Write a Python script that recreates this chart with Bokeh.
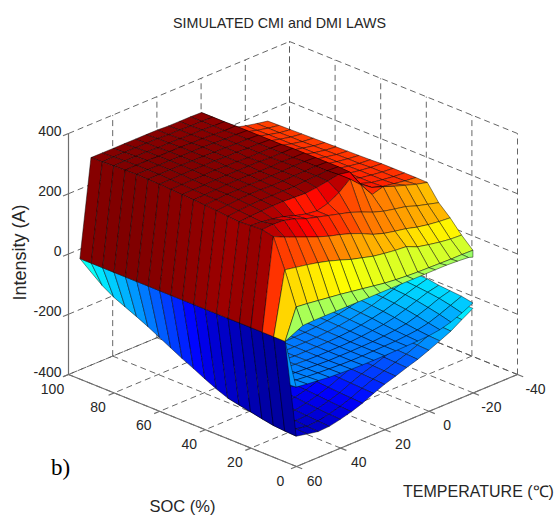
from bokeh.plotting import figure
from bokeh.embed import file_html
from bokeh.resources import INLINE
from bokeh.models import ColumnDataSource
from bokeh.core.properties import value

# ---------------- data ----------------
title = "SIMULATED CMI and DMI LAWS"
soc_ticks = [0, 20, 40, 60, 80, 100]
temp_ticks = [60, 40, 20, 0, -20, -40]
z_ticks = [-400, -200, 0, 200, 400]

temps = [60, 55, 50, 45, 40, 35, 30, 25, 20, 15, 10, 5, 0, -5, -10, -15, -20, -25]
socs = [5, 10, 15, 20, 25, 30, 35, 40, 45, 50, 55, 60, 65, 70, 75, 80, 85, 90, 95]

# upper sheet (charge): one row per SOC, one value per temps[1:]; temps[0] is zero
up_edge = [28, 30, 30, 30, 30, 30, 30, 30, 30, 30, 30, 30, 30, 30, 28, 25, 20]
up_05 = [99, 95, 90, 85, 80, 74, 68, 62, 56, 52, 49, 47, 46, 45, 44, 44, 43]
up_10 = [207, 200, 193, 185, 175, 163, 150, 140, 130, 124, 119, 116, 100, 92, 85, 80, 78]
up_15 = [302, 285, 270, 255, 240, 227, 217, 205, 190, 172, 160, 152, 145, 135, 128, 123, 120]
up_20 = [310, 312, 310, 300, 285, 275, 265, 255, 245, 231, 215, 203, 195, 188, 175, 165, 155]
up_25 = [308, 305, 300, 292, 280, 270, 265, 275, 295, 325, 290, 243, 254, 240, 228, 216, 207]
up_30 = [305, 308, 310, 312, 312, 310, 308, 312, 318, 325, 318, 262, 236, 224, 218, 212, 208]
up_35 = [308, 312, 315, 316, 316, 316, 315, 318, 320, 322, 320, 265, 234, 222, 216, 211, 208]
up_40 = [312, 315, 318, 320, 320, 318, 318, 320, 320, 322, 320, 265, 234, 222, 216, 211, 208]
up_45 = [315, 318, 320, 320, 322, 320, 320, 320, 322, 322, 320, 265, 234, 222, 216, 211, 208]
up_50 = [317, 318, 320, 322, 322, 322, 320, 320, 322, 320, 320, 265, 234, 222, 215, 209, 206]
up_55 = [319, 320, 320, 322, 322, 322, 322, 322, 320, 320, 320, 265, 234, 222, 215, 209, 205]
up_60 = [321, 322, 322, 322, 324, 322, 322, 320, 320, 320, 318, 265, 234, 222, 215, 208, 204]
up_65 = [323, 323, 324, 324, 324, 324, 322, 322, 320, 320, 318, 265, 234, 222, 214, 207, 203]
up_70 = [324, 325, 325, 325, 324, 324, 322, 322, 320, 320, 318, 265, 234, 222, 214, 206, 202]
up_75 = [325, 325, 325, 325, 324, 324, 324, 322, 320, 320, 318, 265, 234, 222, 213, 205, 201]
up_80 = [324, 325, 325, 324, 324, 324, 322, 322, 320, 318, 318, 265, 234, 222, 213, 205, 200]
up_85 = [323, 324, 324, 324, 322, 322, 322, 320, 320, 318, 317, 265, 234, 222, 213, 204, 199]
up_90 = [321, 322, 322, 322, 322, 322, 320, 320, 318, 318, 317, 265, 234, 222, 212, 204, 198]
up_95 = [320, 320, 320, 320, 320, 320, 320, 318, 318, 318, 317, 265, 234, 222, 212, 204, 197]

# blue sheet seen from below at the 60 to 55 degree step, by SOC
wall_55 = [-330, -328, -325, -318, -310, -303, -295, -280, -262, -243, -225, -205, -185, -165, -147, -130, -113, -90, -60]

# dark lower sheet, SOC 5 to 35, temps[1:]
dk_05 = [-330, -338, -345, -343, -335, -325, -312, -295, -280, -268, -255, -243, -228, -212, -195, -172, -150]
dk_10 = [-328, -336, -343, -341, -333, -323, -310, -293, -278, -266, -253, -241, -226, -210, -193, -170, -148]
dk_15 = [-325, -333, -340, -338, -330, -320, -308, -291, -276, -264, -251, -239, -224, -208, -190, -168, -146]
dk_20 = [-318, -330, -337, -335, -327, -317, -305, -289, -274, -262, -249, -237, -222, -206, -188, -166, -144]
dk_25 = [-310, -326, -333, -331, -323, -314, -302, -286, -272, -260, -247, -235, -220, -204, -186, -164, -142]
dk_30 = [-303, -322, -329, -327, -320, -311, -299, -283, -270, -258, -245, -233, -218, -202, -184, -162, -140]
dk_35 = [-295, -318, -325, -323, -316, -308, -296, -280, -268, -256, -243, -231, -216, -200, -182, -160, -138]

# lighter lower sheet, SOC 5 to 60, temps[1:]
lt_05 = [-167, -172, -176, -180, -182, -184, -185, -185, -185, -184, -183, -182, -180, -175, -165, -150, -132]
lt_10 = [-170, -174, -178, -181, -183, -185, -186, -186, -185, -184, -183, -180, -176, -168, -155, -140, -125]
lt_15 = [-172, -176, -180, -182, -184, -186, -186, -186, -185, -184, -181, -177, -171, -160, -147, -132, -122]
lt_20 = [-174, -178, -181, -183, -185, -186, -186, -186, -185, -182, -178, -173, -165, -153, -140, -127, -119]
lt_25 = [-176, -180, -182, -184, -186, -186, -186, -185, -183, -180, -175, -168, -160, -148, -135, -123, -113]
lt_30 = [-178, -180, -183, -185, -186, -186, -186, -185, -182, -178, -172, -165, -156, -144, -132, -120, -112]
lt_35 = [-180, -182, -184, -185, -186, -186, -185, -184, -181, -176, -170, -162, -153, -142, -130, -118, -110]
lt_40 = [-180, -182, -184, -185, -186, -186, -185, -183, -180, -175, -168, -160, -150, -140, -128, -116, -108]
lt_45 = [-180, -182, -184, -185, -186, -186, -185, -182, -178, -173, -166, -158, -148, -138, -126, -114, -106]
lt_50 = [-180, -182, -184, -185, -185, -185, -184, -181, -177, -172, -165, -156, -146, -136, -124, -112, -104]
lt_55 = [-180, -182, -183, -184, -185, -185, -183, -180, -176, -170, -163, -154, -144, -134, -122, -110, -102]
lt_60 = [-178, -180, -182, -183, -184, -184, -182, -179, -175, -169, -162, -152, -142, -132, -120, -108, -100]

upper_rows = [up_05, up_10, up_15, up_20, up_25, up_30, up_35, up_40, up_45, up_50,
              up_55, up_60, up_65, up_70, up_75, up_80, up_85, up_90, up_95]
dark_rows = [dk_05, dk_10, dk_15, dk_20, dk_25, dk_30, dk_35]
light_rows = [lt_05, lt_10, lt_15, lt_20, lt_25, lt_30, lt_35, lt_40, lt_45, lt_50, lt_55, lt_60]

# ---------------- view of the 3-D box, in page pixels ----------------
X0, Y0 = 296.0, 466.0          # corner SOC 0, T 60, Z -400
SX, SY = -2.28, -0.92          # per % SOC
TX, TY = 2.21, -0.92           # per degree below 60
ZY = -241.0 / 800.0            # per ampere

def proj(soc, t, z):
    u = 60 - t
    return (X0 + SX * soc + TX * u, Y0 + SY * soc + TY * u + ZY * (z + 400))

CMIN, CMAX = -350.0, 325.0
def jet(z):
    f = max(0.0, min(1.0, (z - CMIN) / (CMAX - CMIN)))
    ch = lambda c: max(0.0, min(1.0, 1.5 - abs(4 * f - c)))
    r, g, b = ch(3), ch(2), ch(1)
    return "#%02x%02x%02x" % (round(r * 255), round(g * 255), round(b * 255))

xs, ys, cols = [], [], []
def quad(pts, z):
    px = [proj(*q) for q in pts]
    xs.append([a for a, _ in px])
    ys.append([b for _, b in px])
    cols.append(jet(z))

def sheet(rows, row_socs, t_list, tint=0):
    # back to front: coldest column first, highest SOC first
    for j in range(len(t_list) - 1, 0, -1):
        t_lo, t_hi = t_list[j], t_list[j - 1]
        for i in range(len(rows) - 2, -1, -1):
            s_lo, s_hi = row_socs[i], row_socs[i + 1]
            quad([(s_lo, t_hi, rows[i][j - 1]), (s_hi, t_hi, rows[i + 1][j - 1]),
                  (s_hi, t_lo, rows[i + 1][j]), (s_lo, t_lo, rows[i][j])], rows[i][j] + tint)

t55 = temps[1:]
sheet(dark_rows, socs[:len(dark_rows)], t55, tint=40)
sheet(light_rows, socs[:len(light_rows)], t55)
# first step of the lighter sheet
quad([(socs[0], 60, 0), (socs[1], 60, 0), (socs[1], 55, light_rows[1][0]), (socs[0], 55, light_rows[0][0])], light_rows[0][0])
# blue step between 60 and 55 degrees
for i in range(len(socs) - 2, -1, -1):
    quad([(socs[i], 60, 0), (socs[i + 1], 60, 0), (socs[i + 1], 55, wall_55[i + 1]), (socs[i], 55, wall_55[i])], wall_55[i])

# upper sheet, including its step from zero at 60 degrees
full_upper = [[0] + r for r in upper_rows]
edge_row = [0] + up_edge
for j in range(len(temps) - 1, 0, -1):
    t_lo, t_hi = temps[j], temps[j - 1]
    for i in range(len(socs) - 2, -1, -1):
        tint = -40 if (socs[i] == 20 and j > 3) or (socs[i] == 25 and j > 5) else 0
        quad([(socs[i], t_hi, full_upper[i][j - 1]), (socs[i + 1], t_hi, full_upper[i + 1][j - 1]),
              (socs[i + 1], t_lo, full_upper[i + 1][j]), (socs[i], t_lo, full_upper[i][j])], full_upper[i][j] + tint)
    # narrow band at the lowest SOC
    sh = 0 if j == len(temps) - 1 else 3
    sh_hi = 0 if j == 1 else 3
    quad([(socs[0], t_lo, full_upper[0][j]), (socs[0], t_hi, full_upper[0][j - 1]),
          (socs[0], t_hi - sh_hi, edge_row[j - 1]), (socs[0], t_lo - sh, edge_row[j])], edge_row[j] - 15)

# ---------------- figure ----------------
p = figure(width=555, height=515, x_range=(0, 555), y_range=(515, 0),
           x_axis_type=None, y_axis_type=None, toolbar_location=None,
           output_backend="svg", min_border=0, outline_line_color=None,
           background_fill_color="white")
p.grid.visible = False

# back planes and floor: dashed grid
gx, gy = [], []
def seg(a, b):
    pa, pb = proj(*a), proj(*b)
    gx.append([pa[0], pb[0]]); gy.append([pa[1], pb[1]])

for t in temp_ticks:
    seg((100, t, -400), (100, t, 400))          # SOC 100 plane, verticals
    seg((0, t, -400), (100, t, -400))           # floor
for s in soc_ticks:
    seg((s, -40, -400), (s, -40, 400))          # T -40 plane, verticals
    seg((s, -40, -400), (s, 60, -400))          # floor
for z in z_ticks:
    seg((100, 60, z), (100, -40, z))
    seg((100, -40, z), (0, -40, z))
p.multi_line(gx, gy, line_color="#555555", line_width=0.9, line_dash="6 4")

# solid front axes and their ticks
ax, ay = [], []
def aseg(a, b):
    pa, pb = proj(*a), proj(*b)
    ax.append([pa[0], pb[0]]); ay.append([pa[1], pb[1]])
aseg((100, 60, -400), (100, 60, 400))
aseg((100, 60, -400), (0, 60, -400))
aseg((0, 60, -400), (0, -40, -400))
for z in z_ticks:
    aseg((100, 60, z), (100, 62.5, z))
for s in soc_ticks:
    aseg((s, 60, -400), (s, 62.5, -400))
for t in temp_ticks:
    aseg((0, t, -400), (-2.5, t, -400))
p.multi_line(ax, ay, line_color="#6e6e6e", line_width=1.2)

# surface
src = ColumnDataSource(dict(xs=xs, ys=ys, c=cols))
p.patches("xs", "ys", source=src, fill_color="c", line_color="#000000", line_width=0.6, line_alpha=0.75)

font = value("Liberation Sans")
ink = "#262626"
def label(x, y, t, size, align="center", angle=0.0, f=font, color=ink):
    p.text([x], [y], text=[t], text_font=f, text_font_size=size, text_align=align,
           text_baseline="middle", angle=angle, text_color=color)

for s in soc_ticks:
    x, y = proj(s, 60, -400)
    label(x - 16, y + 14, str(s), "14px")
for t in temp_ticks:
    x, y = proj(0, t, -400)
    label(x + 18, y + 14, str(t), "14px")
for z in z_ticks:
    x, y = proj(100, 60, z)
    label(x - 7, y - 3, str(z), "14px", align="right")

label(279, 22, title, "14.3px")
label(19, 252, "Intensity (A)", "18px", angle=1.5708)
label(478, 491, "TEMPERATURE (\u2103)", "16px")
label(182, 505, "SOC (%)", "16.5px")
label(60, 467, "b)", "23px", f=value("Liberation Serif"), color="#000000")

open("out.html", "w").write(file_html(p, INLINE))
